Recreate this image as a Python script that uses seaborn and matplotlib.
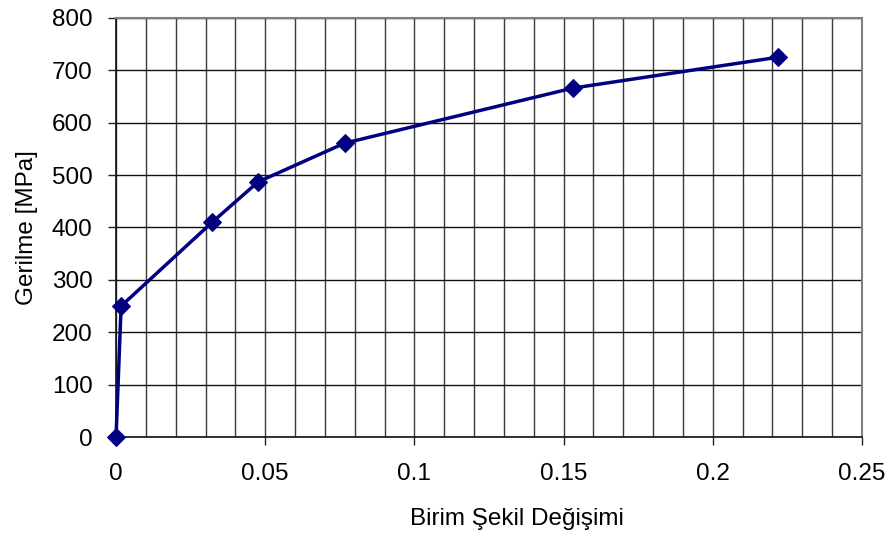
import matplotlib
matplotlib.use("Agg")
import matplotlib.pyplot as plt
import seaborn as sns
import numpy as np

# veriler
strain = [0.0, 0.0017, 0.0322, 0.0476, 0.0766, 0.1530, 0.2218]
stress = [0, 250, 410, 487, 561, 666, 725]

x_ticks = [0, 0.05, 0.1, 0.15, 0.2, 0.25]
x_labels = ["0", "0.05", "0.1", "0.15", "0.2", "0.25"]
y_ticks = [0, 100, 200, 300, 400, 500, 600, 700, 800]

sns.set_style("white")
plt.rcParams['font.family'] = ['Liberation Sans', 'DejaVu Sans']
plt.rcParams['text.color'] = 'black'
plt.rcParams['axes.labelcolor'] = 'black'

fig = plt.figure(figsize=(8.94, 5.43), dpi=100)
ax = fig.add_axes([0.1298, 0.1952, 0.8344, 0.7717])

sns.lineplot(x=strain, y=stress, marker="D", markersize=9.2, color="#000080",
             linewidth=2.5, markeredgecolor="#000080", sort=False, ax=ax,
             zorder=5, clip_on=False)

ax.set_xlim(0, 0.25)
ax.set_ylim(0, 800)
ax.set_xticks(x_ticks)
ax.set_xticklabels(x_labels)
ax.set_yticks(y_ticks)
ax.set_xticks(np.arange(0, 0.2501, 0.01), minor=True)

# ızgara
ax.grid(True, which="major", axis="y", color="#111111", linewidth=1)
ax.grid(True, which="both", axis="x", color="#3a3a3a", linewidth=1)
ax.set_axisbelow(True)

for s in ax.spines.values():
    s.set_color("#808080")
    s.set_linewidth(1.5)
ax.spines["bottom"].set_color("#111111")
ax.spines["bottom"].set_linewidth(1.2)
ax.spines["left"].set_color("#111111")
ax.spines["left"].set_linewidth(1.2)

ax.tick_params(axis="both", which="major", direction="out", length=6,
               width=1, color="#222222", labelsize=17.5, labelcolor="black",
               bottom=True, left=True)
ax.tick_params(axis="x", which="major", pad=12.5)
ax.tick_params(axis="y", which="major", pad=11)
ax.tick_params(axis="x", which="minor", length=0)

ax.set_xlabel("Birim Şekil Değişimi", fontsize=17.5)
ax.set_ylabel("Gerilme [MPa]", fontsize=17.5, labelpad=9.5)
ax.xaxis.set_label_coords(0.5375, -0.1706)

plt.savefig("out.png", dpi=100)
